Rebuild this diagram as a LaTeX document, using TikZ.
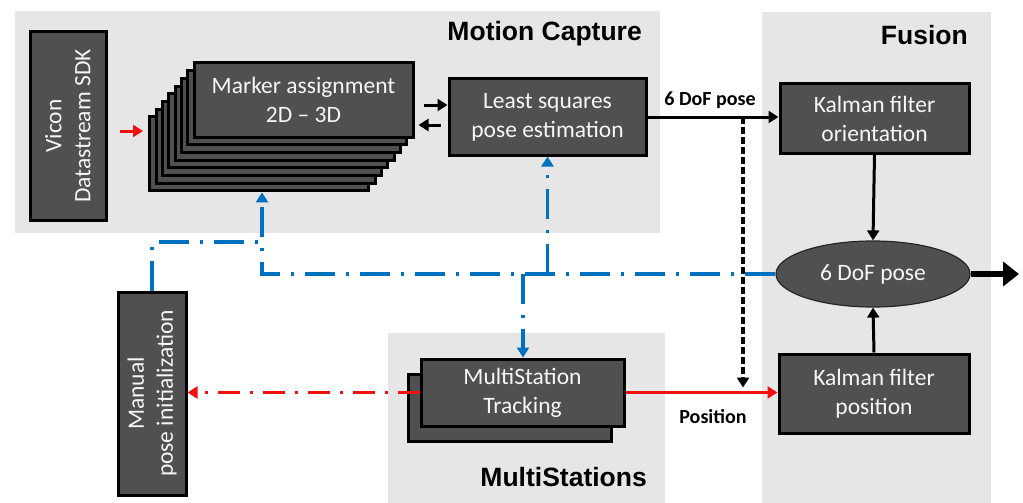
\documentclass[tikz,border=0pt]{standalone}
\usepackage{fontspec}
\setmainfont{Carlito}
\newfontfamily\titlefont{Liberation Sans}
\usetikzlibrary{arrows.meta,shapes.geometric,calc}
\definecolor{panelgray}{HTML}{E6E6E6}
\definecolor{boxgray}{HTML}{505050}
\definecolor{txtwhite}{HTML}{F6F6F6}
\definecolor{lineblue}{HTML}{0070C0}
\definecolor{linered}{HTML}{F01010}
\begin{document}
\begin{tikzpicture}[x=1pt,y=-1pt,
  blk/.style={draw=black, line width=3pt, fill=boxgray, text=txtwhite,
    font=\fontsize{23.5}{29}\selectfont, align=center, inner sep=0pt},
  rtxt/.style={rotate=90, text=txtwhite, font=\fontsize{23.5}{29}\selectfont, align=center, inner sep=0pt},
  ptitle/.style={font=\titlefont\bfseries\fontsize{26.5}{30}\selectfont, anchor=east, inner sep=0pt},
  lbl/.style={font=\bfseries\fontsize{20}{24}\selectfont, inner sep=0pt},
  conn/.style={draw=black, line width=3pt, -{Triangle[length=10pt,width=12pt]}},
  dashconn/.style={draw=black, line width=3.2pt, dash pattern=on 7pt off 3pt, -{Triangle[length=10pt,width=12pt]}},
  redsolid/.style={draw=linered, line width=3pt, -{Triangle[length=10pt,width=12pt]}},
  reddd/.style={draw=linered, line width=3.2pt, dash pattern=on 22pt off 10pt on 3pt off 10pt, -{Triangle[length=10pt,width=12pt]}},
  bluedd/.style={draw=lineblue, line width=3.2pt, dash pattern=on 30pt off 11pt on 3pt off 11pt},
  bluearr/.style={bluedd, -{Triangle[length=10pt,width=12pt]}},
  bigarr/.style={draw=black, line width=6pt, -{Triangle[length=16pt,width=24pt]}}
]
\useasboundingbox (0,0) rectangle (1023,503);
% panels
\fill[panelgray] (15,11) rectangle (660,233);
\fill[panelgray] (762,12) rectangle (991,503);
\fill[panelgray] (388,333) rectangle (665,503);
\node[ptitle] (tmc) at (642,34) {Motion Capture};
\node[ptitle] (tfu) at (968,35) {Fusion};
\node[ptitle] (tms) at (647,477) {MultiStations};

% Vicon
\node[blk, minimum width=76pt, minimum height=188pt] (vicon) at (68,126) {};
\node[rtxt] (vicontxt) at (vicon.center) {Vicon\\Datastream SDK};

% Marker assignment stack
\foreach \k in {7,6,5,4,3,2,1} {
  \node[blk, minimum width=219pt, minimum height=74pt] (m\k) at ({303.5-6.3*\k},{100+7.7*\k}) {};
}
\node[blk, minimum width=219pt, minimum height=74pt] (m0) at (303.5,100) {Marker assignment\\2D \textendash\ 3D};

% Least squares
\node[blk, minimum width=197pt, minimum height=76pt] (ls) at (547.5,117) {Least squares\\pose estimation};

% Fusion nodes
\node[blk, minimum width=189pt, minimum height=69pt] (kfo) at (874.5,118.5) {Kalman filter\\orientation};
\node[ellipse, draw=black!85, line width=1.2pt, fill=boxgray, text=txtwhite,
  font=\fontsize{23.5}{29}\selectfont, inner sep=0pt,
  minimum width=194pt, minimum height=66pt] (ell) at (873,274) {6 DoF pose};
\node[blk, minimum width=190pt, minimum height=79pt] (kfp) at (874,393.5) {Kalman filter\\position};

% MultiStation
\node[blk, minimum width=203pt, minimum height=67pt] (mstb) at (509.5,407.5) {};
\node[blk, minimum width=203pt, minimum height=67pt] (mst) at (522.5,392.5) {MultiStation\\Tracking};

% Manual
\node[blk, minimum width=68pt, minimum height=203pt] (manual) at (152,393.5) {};
\node[rtxt] (manualtxt) at (manual.center) {Manual\\pose initialization};

% connectors
\coordinate (vin) at (143,131);
\draw[redsolid, shorten <=12pt] (vicon.east |- vin) -- (vin);

\coordinate (ra) at ($(m0.east)+(0,5)$);
\draw[conn, shorten <=9pt] (ra) -- (ra -| ls.west);
\coordinate (la) at ($(m0.east)+(4,25)$);
\draw[conn, shorten <=7pt] (la -| ls.west) -- (la);

\draw[conn] (ls.east) -- (ls.east -| kfo.west);
\node[lbl] (lpose) at (710,100) {6 DoF pose};

\coordinate (tap) at (743,117);
\draw[dashconn, shorten >=6pt] (tap) -- (tap |- kfp.west);

\draw[conn] (kfo.south) -- (ell.north);
\draw[conn] (kfp.north) -- (ell.south);
\coordinate (out) at (1019,274);
\draw[bigarr] (ell.east) -- (out);

\draw[redsolid] (mst.east) -- (mst.east -| kfp.west);
\node[lbl] (lpos) at (713,417) {Position};
\draw[reddd] (mst.west) -- (mst.west -| manual.east);

% blue feedback
\coordinate (jm) at (262,274);
\draw[bluearr] (ell.west) -- (jm) -- (jm |- m7.south);
\coordinate (jl) at (ls.south |- ell.west);
\draw[bluearr] (jl) -- (ls.south);
\coordinate (jt) at (523,274);
\draw[bluearr] (jt) -- (jt |- mst.north);
\coordinate (jn) at (262,242);
\draw[bluedd] (manual.north) |- (jn);
\end{tikzpicture}
\end{document}
